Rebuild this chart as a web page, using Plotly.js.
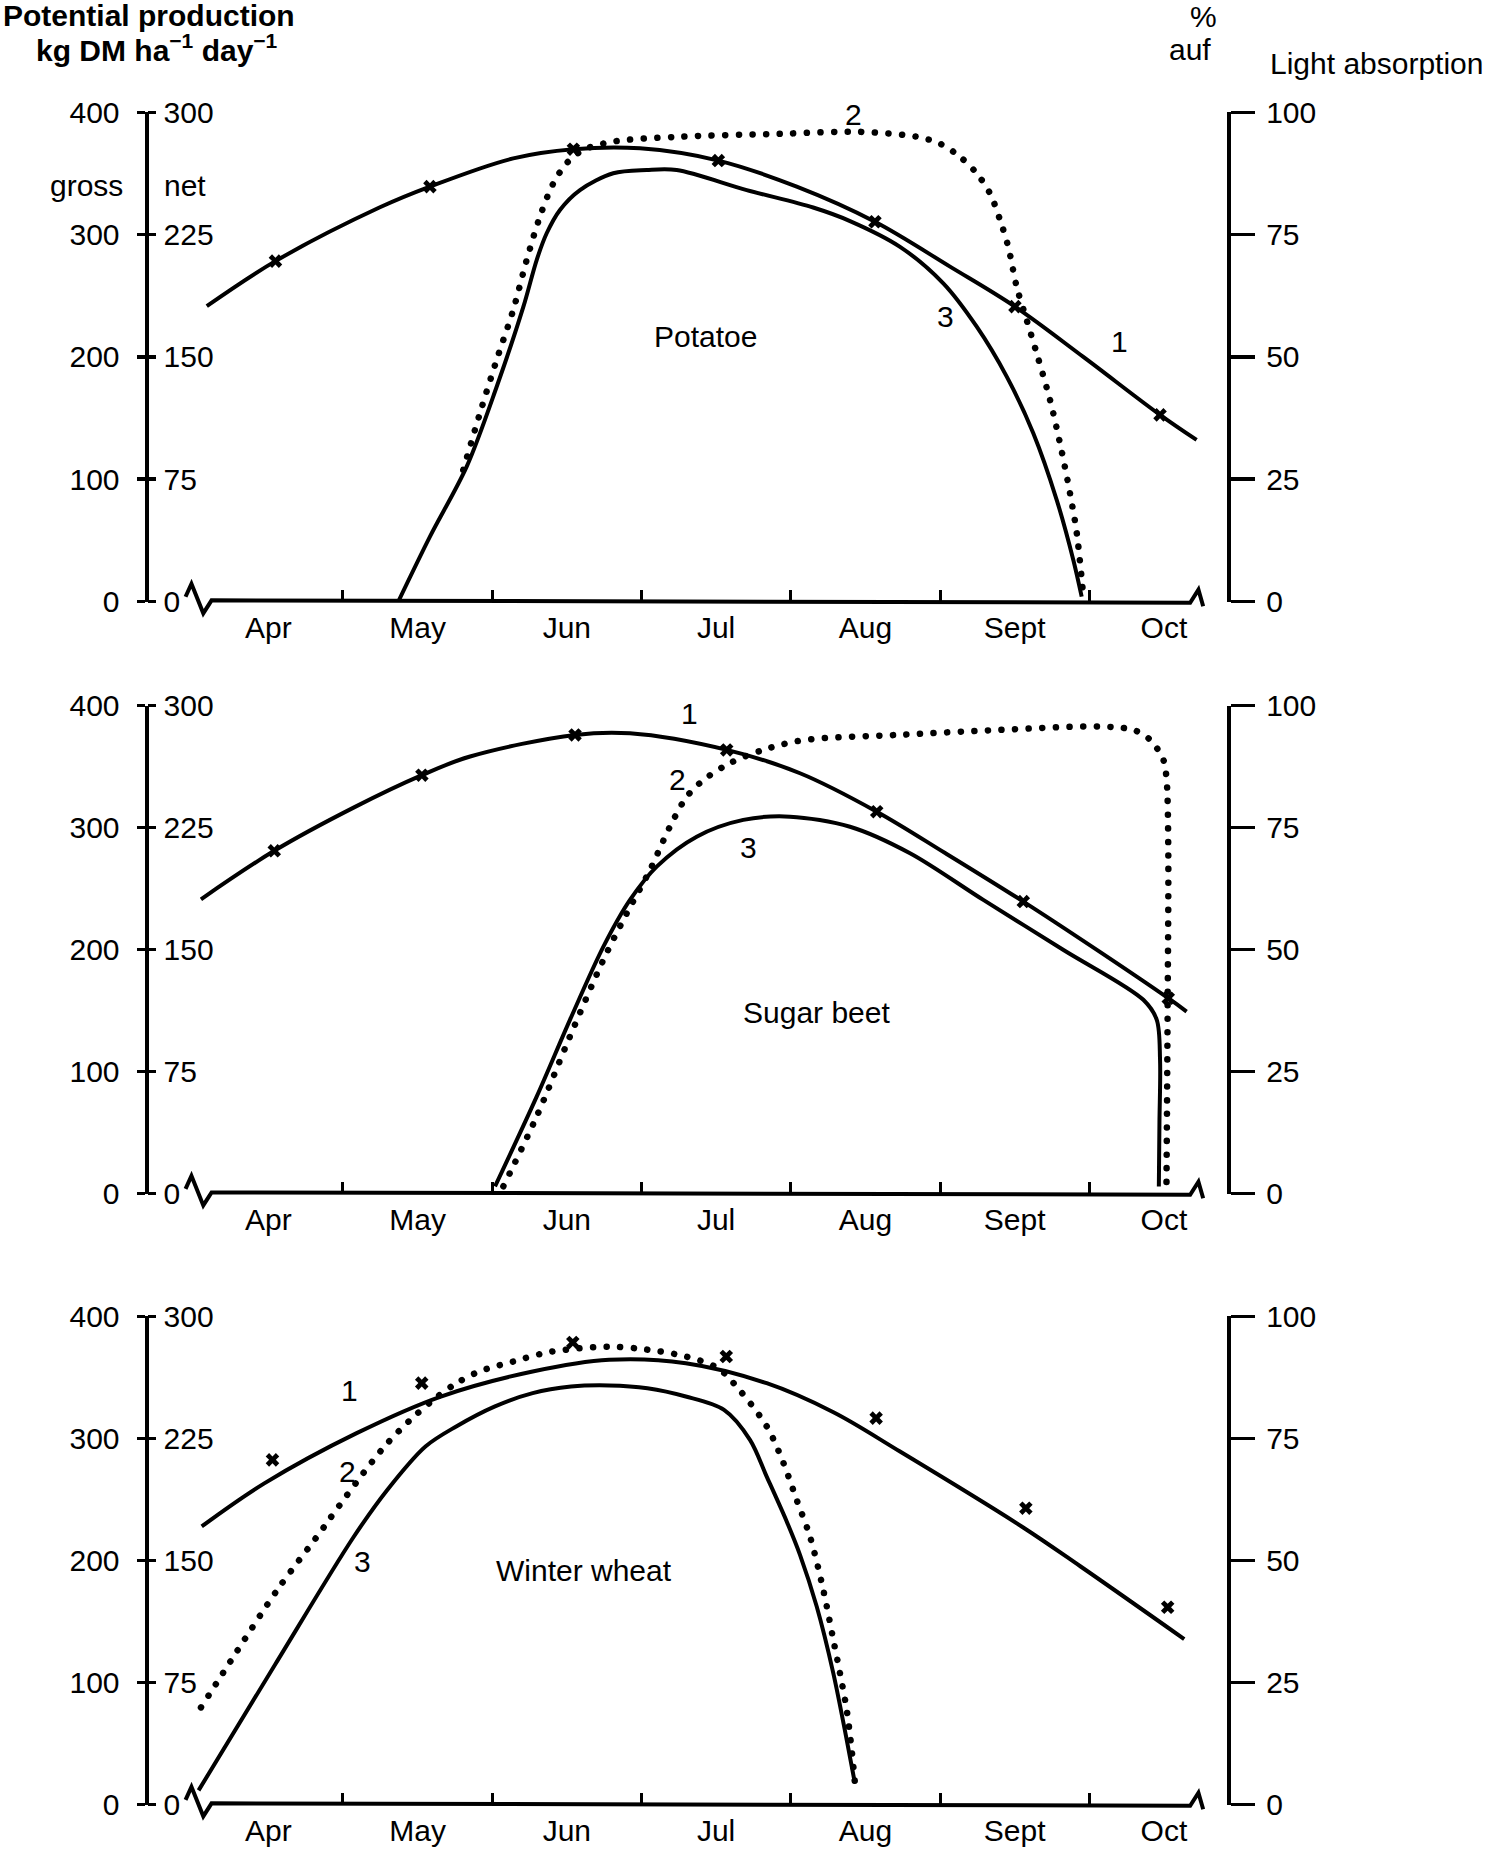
<!DOCTYPE html>
<html>
<head>
<meta charset="utf-8">
<script src="https://cdn.plot.ly/plotly-3.0.1.min.js"></script>
<style>
html,body{margin:0;padding:0;background:#fff;}
#chart{width:1488px;height:1853px;}
</style>
</head>
<body>
<div id="chart"></div>
<script>
// ---------- categories / tick labels ----------
const monthNames   = ['Apr','May','Jun','Jul','Aug','Sept','Oct'];
const monthCentres = [4.5,5.5,6.5,7.5,8.5,9.5,10.5];
const monthBounds  = [5,6,7,8,9,10];
const grossTicks = [0,100,200,300,400];
const netTicks   = [0,75,150,225,300];
const pctTicks   = [0,25,50,75,100];

// ---------- Potatoe ----------
// 1 = gross production (kg DM/ha/day, gross scale)
const potatoGrossX = [4.088,4.548,5.248,5.583,6.141,6.544,6.990,7.515,8.040,8.564,9.067,9.502,9.960,10.474,10.719];
const potatoGrossY = [241.5,278.3,322.3,339.2,362.3,369.8,370.5,360.5,339.2,310.5,273.8,241.1,200.0,152.6,132.1];
const potatoMarkX  = [4.548,5.583,6.544,7.515,8.564,9.502,10.474];
const potatoMarkY  = [278.3,339.2,369.8,360.5,310.5,241.1,152.6];
// 2 = light absorption (%)
const potatoLightX = [5.806,5.918,6.030,6.141,6.231,6.320,6.410,6.499,6.610,6.811,7.258,7.928,8.464,8.844,8.999,9.134,9.246,9.335,9.402,9.457,9.514,9.581,9.648,9.737,9.804,9.871,9.916,9.960];
const potatoLightY = [26.9,38.5,49.4,59.6,69.8,78.7,85.5,89.6,92.3,94.0,95.0,95.6,96.0,95.0,93.6,90.9,87.5,83.4,78.0,72.5,64.3,57.5,50.7,41.2,32.3,22.1,14.0,1.0];
// 3 = net production (net scale)
const potatoNetX = [5.371,5.583,5.829,6.030,6.209,6.298,6.365,6.454,6.588,6.811,7.035,7.236,7.705,8.150,8.397,8.732,9.022,9.246,9.447,9.625,9.782,9.893,9.949];
const potatoNetY = [0,39.8,82.7,131.7,180.8,209.4,225.8,240.1,252.3,262.6,264.6,264.6,252.3,241.6,233.3,217.5,195.1,168.5,137.9,103.2,62.2,25.5,3.0];

// ---------- Sugar beet ----------
const beetGrossX = [4.049,4.540,5.078,5.529,5.852,6.555,6.923,7.571,8.062,8.576,9.037,9.558,10.066,10.529,10.652];
const beetGrossY = [241.2,280.9,316.7,342.9,358.2,375.9,377.2,363.6,344.5,313.0,278.9,239.3,198.5,160.1,149.2];
const beetMarkX  = [4.540,5.529,6.555,7.571,8.576,9.558,10.529];
const beetMarkY  = [280.9,342.9,375.9,363.6,313.0,239.3,160.1];
const beetLightX = [6.075,6.298,6.521,6.745,6.901,7.057,7.191,7.303,7.414,7.593,7.816,8.084,8.732,9.402,10.072,10.295,10.407,10.496,10.518,10.529,10.525,10.517];
const beetLightY = [1.5,15.8,32.2,47.9,57.4,66.3,75.2,81.3,84.7,88.2,90.9,92.9,94.0,95.0,95.7,95.0,93.0,88.9,84.7,71.1,38.7,1.5];
const beetNetX = [6.019,6.298,6.521,6.745,6.923,7.102,7.370,7.682,7.995,8.397,8.799,9.290,9.830,10.362,10.452,10.474,10.470,10.466];
const beetNetY = [4.4,59.6,106.8,151.8,180.5,201.0,219.4,229.7,231.7,225.5,209.2,180.5,149.6,119.1,106.8,82.2,43.6,4.4];

// ---------- Winter wheat ----------
const wheatGrossX = [4.054,4.476,5.092,5.656,6.271,6.784,7.297,7.839,8.286,8.732,9.547,9.942,10.636];
const wheatGrossY = [227.9,263.4,304.4,334.4,354.9,364.5,361.7,345.3,321.5,289.3,227.9,195.1,135.6];
const wheatMarkX  = [4.528,5.528,6.540,7.568,8.572,9.575,10.525];
const wheatMarkY  = [282.5,345.4,378.7,367.2,316.7,242.9,161.7];
const wheatLightX = [4.049,4.286,4.563,4.836,4.939,5.169,5.297,5.451,5.605,5.759,5.912,6.143,6.399,6.784,7.040,7.297,7.513,7.638,7.839,7.951,8.040,8.129,8.218,8.285,8.330,8.375,8.408,8.430];
const wheatLightY = [19.9,31.2,44.1,55.3,59.7,69.2,74.0,78.8,82.9,86.3,88.7,90.8,92.8,93.8,93.2,91.8,89.4,85.6,77.5,70.0,62.4,54.9,44.0,33.8,26.9,19.4,11.2,4.4];
const wheatNetX = [4.033,4.548,5.066,5.297,5.553,5.759,6.015,6.271,6.528,6.784,7.040,7.297,7.553,7.727,7.839,7.973,8.062,8.174,8.285,8.375,8.430];
const wheatNetY = [8.7,86.4,163.7,193.4,220.1,232.4,244.6,252.9,256.9,257.6,255.9,250.8,242.6,224.2,201.6,174.0,153.5,121.7,80.8,39.8,13.1];

// ---------- layout helpers (reference pixel frame 1259 x 1568) ----------
const W = 1259, H = 1568;
const px = x => x / W;
const py = y => 1 - y / H;
const FONT = 'Liberation Sans, Arial, Helvetica, sans-serif';
const LW = 4;

const panels = [
  {bottom: 509,  top: 95,   gx: potatoGrossX, gy: potatoGrossY, mx: potatoMarkX, my: potatoMarkY,
   lx: potatoLightX, ly: potatoLightY, nx: potatoNetX, ny: potatoNetY},
  {bottom: 1010, top: 597,  gx: beetGrossX, gy: beetGrossY, mx: beetMarkX, my: beetMarkY,
   lx: beetLightX, ly: beetLightY, nx: beetNetX, ny: beetNetY},
  {bottom: 1527, top: 1114, gx: wheatGrossX, gy: wheatGrossY, mx: wheatMarkX, my: wheatMarkY,
   lx: wheatLightX, ly: wheatLightY, nx: wheatNetX, ny: wheatNetY}
];

const xRange = [3.9458, 10.7787];
const xDomain = [px(157), px(1020)];

const layout = {
  width: 1488, height: 1853,
  margin: {l: 0, r: 0, t: 0, b: 0, pad: 0},
  paper_bgcolor: '#fff', plot_bgcolor: 'rgba(0,0,0,0)',
  showlegend: false,
  font: {family: FONT, size: 30, color: '#000'},
  shapes: [], annotations: []
};
const traces = [];

panels.forEach((p, i) => {
  const xt = 'x' + (2*i + 1), xl = 'x' + (2*i + 2);
  const yg = 'y' + (3*i + 1), yn = 'y' + (3*i + 2), yp = 'y' + (3*i + 3);
  const key = s => s === 'x1' ? 'xaxis' : s === 'y1' ? 'yaxis' : s.replace('x','xaxis').replace('y','yaxis');
  const ref = s => s === 'x1' ? 'x' : s === 'y1' ? 'y' : s;
  const dom = [py(p.bottom), py(p.top)];

  layout[key(xt)] = {
    domain: xDomain, range: xRange, anchor: ref(yg),
    tickmode: 'array', tickvals: monthBounds, ticks: 'inside', ticklen: 12, tickwidth: 3,
    tickcolor: '#000', showticklabels: false, showline: false, showgrid: false, zeroline: false
  };
  layout[key(xl)] = {
    domain: xDomain, range: xRange, anchor: ref(yg), overlaying: ref(xt),
    tickmode: 'array', tickvals: monthCentres, ticktext: monthNames, ticks: '',
    ticklabelstandoff: 5, tickfont: {family: FONT, size: 30, color: '#000'},
    showline: false, showgrid: false, zeroline: false
  };
  layout[key(yg)] = {
    domain: dom, range: [0, 400], anchor: 'free', position: px(124), side: 'left',
    showline: true, linewidth: LW, linecolor: '#000',
    tickmode: 'array', tickvals: grossTicks, ticks: 'outside', ticklen: 8, tickwidth: 3.5, tickcolor: '#000',
    ticklabelstandoff: 11, tickfont: {family: FONT, size: 30, color: '#000'},
    showgrid: false, zeroline: false
  };
  layout[key(yn)] = {
    range: [0, 300], anchor: 'free', position: px(124), side: 'right', overlaying: ref(yg),
    showline: false,
    tickmode: 'array', tickvals: netTicks, ticks: 'outside', ticklen: 8, tickwidth: 3.5, tickcolor: '#000',
    ticklabelstandoff: 2, tickfont: {family: FONT, size: 30, color: '#000'},
    showgrid: false, zeroline: false
  };
  layout[key(yp)] = {
    range: [0, 100], anchor: 'free', position: px(1040), side: 'right', overlaying: ref(yg),
    showline: true, linewidth: LW, linecolor: '#000',
    tickmode: 'array', tickvals: pctTicks, ticks: 'outside', ticklen: 24, tickwidth: 3.5, tickcolor: '#000',
    ticklabelstandoff: 5, tickfont: {family: FONT, size: 30, color: '#000'},
    showgrid: false, zeroline: false
  };

  // curve 1 : gross
  traces.push({x: p.gx, y: p.gy, xaxis: ref(xt), yaxis: ref(yg), mode: 'lines',
    line: {color: '#000', width: LW, shape: 'spline', smoothing: 1}, hoverinfo: 'skip'});
  // x marks
  traces.push({x: p.mx, y: p.my, xaxis: ref(xt), yaxis: ref(yg), mode: 'markers', cliponaxis: false,
    marker: {symbol: 'x', size: 12, color: '#000', line: {width: 0}}, hoverinfo: 'skip'});
  // curve 2 : light absorption
  traces.push({x: p.lx, y: p.ly, xaxis: ref(xt), yaxis: ref(yp), mode: 'lines',
    line: {color: '#000', width: 6.5, dash: '5px,9px', shape: 'spline', smoothing: 0.9}, hoverinfo: 'skip'});
  // curve 3 : net
  traces.push({x: p.nx, y: p.ny, xaxis: ref(xt), yaxis: ref(yn), mode: 'lines',
    line: {color: '#000', width: LW, shape: 'spline', smoothing: 0.9}, hoverinfo: 'skip'});
  // empty trace so the label axis exists
  traces.push({x: [], y: [], xaxis: ref(xl), yaxis: ref(yg), mode: 'lines', hoverinfo: 'skip'});

  // baseline with axis-break zigzags
  const b = p.bottom;
  const pts = [[157,b-4],[162,b-15],[172,b+10],[179,b-1],[1007,b+1],[1014,b-10],[1018,b+4]];
  layout.shapes.push({
    type: 'path', xref: 'paper', yref: 'paper',
    path: pts.map((q, k) => (k ? 'L ' : 'M ') + px(q[0]).toFixed(5) + ' ' + py(q[1]).toFixed(5)).join(' '),
    line: {color: '#000', width: LW}
  });
});

// ---------- text ----------
function txt(text, x, y, anchor, extra) {
  layout.annotations.push(Object.assign({
    text: text, x: px(x), y: py(y), xref: 'paper', yref: 'paper',
    xanchor: anchor || 'center', yanchor: 'middle', showarrow: false,
    font: {family: FONT, size: 30, color: '#000'}
  }, extra || {}));
}
txt('<b>Potential production</b>', 126, 13.5);
txt('<b>kg DM ha<sup>\u22121</sup> day<sup>\u22121</sup></b>', 133, 40.5);
txt('%', 1018, 14);
txt('auf', 1007, 42);
txt('Light absorption', 1073, 54, 'left');
txt('gross', 73, 157);
txt('net', 137, 157, 'left');

txt('Potatoe', 597, 285);
txt('1', 947, 289);
txt('2', 722, 97);
txt('3', 800, 268);

txt('1', 583, 604);
txt('2', 573, 660);
txt('3', 633, 717);
txt('Sugar beet', 691, 857);

txt('1', 296, 1177);
txt('2', 294, 1245);
txt('3', 307, 1321);
txt('Winter wheat', 494, 1329);

Plotly.newPlot('chart', traces, layout, {staticPlot: true, responsive: false}).then(gd => {
  gd.querySelectorAll('path.js-line').forEach(pth => {
    const d = pth.style.strokeDasharray;
    if (d && d !== 'none') {
      pth.style.strokeLinecap = 'round';
      pth.style.strokeDasharray = '0.1px, 13.5px';
    }
  });
});
</script>
</body>
</html>
